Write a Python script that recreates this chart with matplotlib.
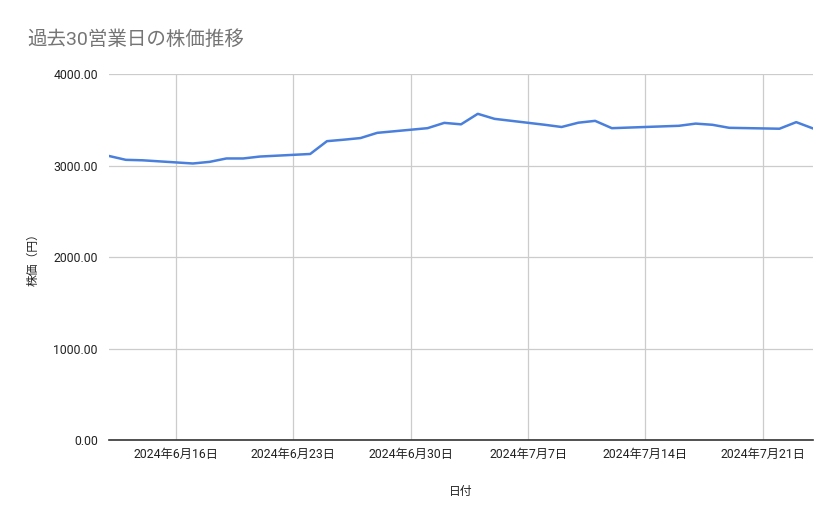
import matplotlib
matplotlib.use("Agg")
import matplotlib.pyplot as plt
import pandas as pd

dates = ["2024-06-12", "2024-06-13", "2024-06-14", "2024-06-17", "2024-06-18",
         "2024-06-19", "2024-06-20", "2024-06-21", "2024-06-24", "2024-06-25",
         "2024-06-26", "2024-06-27", "2024-06-28", "2024-07-01", "2024-07-02",
         "2024-07-03", "2024-07-04", "2024-07-05", "2024-07-08", "2024-07-09",
         "2024-07-10", "2024-07-11", "2024-07-12", "2024-07-16", "2024-07-17",
         "2024-07-18", "2024-07-19", "2024-07-22", "2024-07-23", "2024-07-24"]
prices = [3104, 3062, 3057, 3022, 3040, 3077, 3077, 3098, 3126, 3266,
          3282, 3300, 3357, 3408, 3466, 3450, 3565, 3510, 3445, 3421,
          3468, 3488, 3408, 3434, 3458, 3445, 3412, 3402, 3474, 3405]
yticks = [0, 1000, 2000, 3000, 4000]
xtick_dates = ["2024-06-16", "2024-06-23", "2024-06-30", "2024-07-07",
               "2024-07-14", "2024-07-21"]
title = "過去30営業日の株価推移"
xlabel = "日付"
ylabel = "株価（円）"

fam = ["Roboto", "Noto Sans CJK JP", "DejaVu Sans"]
plt.rcParams["font.family"] = fam

x = pd.to_datetime(dates)
fig = plt.figure(figsize=(8.39, 5.19), dpi=100)
ax = fig.add_axes([0.130, 0.1522, 0.839, 0.7052])
ax.plot(x, prices, color="#4a80dc", lw=1.8, solid_joinstyle="round", zorder=3)

ax.set_xlim(pd.Timestamp("2024-06-12"), pd.Timestamp("2024-07-24"))
ax.set_ylim(0, 4000)
ax.set_yticks(yticks)
ax.set_yticklabels([f"{v:.2f}" for v in yticks])
xt = pd.to_datetime(xtick_dates)
ax.set_xticks(xt)
ax.set_xticklabels([f"{d.year}年{d.month}月{d.day}日" for d in xt])

ax.grid(True, color="#cccccc", lw=0.9, zorder=0)
for s in ["left", "right", "top"]:
    ax.spines[s].set_visible(False)
ax.spines["bottom"].set_color("#333333")
ax.spines["bottom"].set_linewidth(1.2)
ax.spines["bottom"].set_zorder(4)
ax.tick_params(axis="both", length=0, colors="#222222")
ax.tick_params(axis="y", pad=8, labelsize=8.8)
ax.tick_params(axis="x", pad=6, labelsize=8.8)

ax.set_xlabel(xlabel, fontsize=8.5, color="#222222", labelpad=17)
ax.set_ylabel(ylabel, fontsize=8.5, color="#222222", labelpad=10)

fig.text(0.032, 0.913, title, fontsize=14, color="#757575", ha="left", va="baseline")

fig.savefig("out.png", dpi=100)
